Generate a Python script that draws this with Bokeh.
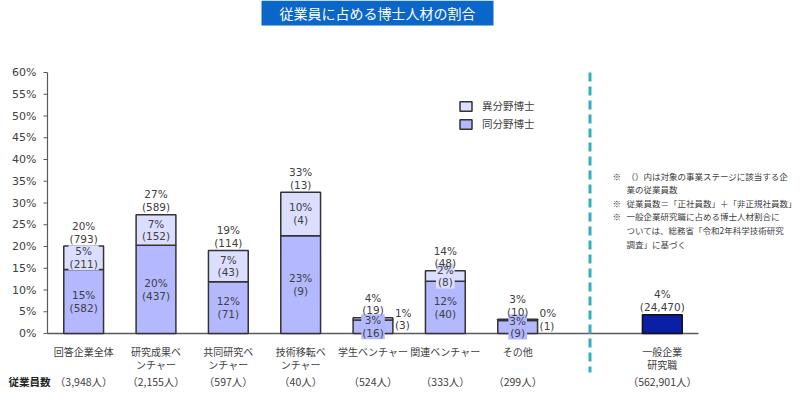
import math
from bokeh.plotting import figure
from bokeh.models import ColumnDataSource, Range1d, Legend, LegendItem
from bokeh.core.properties import value
from bokeh.embed import file_html
from bokeh.resources import INLINE

# ---------------- data ----------------
title_text = "従業員に占める博士人材の割合"
categories = ["回答企業全体", "研究成果ベ\nンチャー", "共同研究ベ\nンチャー", "技術移転ベ\nンチャー",
              "学生ベンチャー", "関連ベンチャー", "その他"]
same_pct = [14.7, 20.3, 11.9, 22.5, 3.1, 12.0, 3.0]     # 同分野博士 (%)
diff_pct = [5.4, 7.0, 7.2, 10.0, 0.5, 2.4, 0.3]         # 異分野博士 (%)
same_cnt = [582, 437, 71, 9, 16, 40, 9]
diff_cnt = [211, 152, 43, 4, 3, 8, 1]
total_cnt = [793, 589, 114, 13, 19, 48, 10]
employees = [3948, 2155, 597, 40, 524, 333, 299]
general_category = "一般企業\n研究職"
general_pct = 4.3
general_cnt = 24470
general_employees = 562901
y_ticks = [0, 5, 10, 15, 20, 25, 30, 35, 40, 45, 50, 55, 60]
legend_labels = ["異分野博士", "同分野博士"]
row_header = "従業員数"
note_marks = ["※", "", "※", "※", "", ""]
note_lines = ["（）内は対象の事業ステージに該当する企",
              "業の従業員数",
              "従業員数＝「正社員数」＋「非正規社員数」",
              "一般企業研究職に占める博士人材割合に",
              "ついては、総務省「令和2年科学技術研究",
              "調査」に基づく"]

# ---------------- style ----------------
JP = "Noto Sans CJK JP"
NUM = "DejaVu Sans"
SAME_COLOR = "#b4b9ff"
DIFF_COLOR = "#dcdeff"
GENERAL_COLOR = "#0a1ea6"
EDGE = "#333333"
TEXT = "#404040"
AXIS = "#5a5a5a"
DIVIDER = "#35aec2"
BAR_W = 0.55
NUM_SIZE = 10.5

W, H = 800, 397
X0, Y0 = 47, 333          # pixel of the plot's left edge / of 0 %
SX, SY = 72.333, 4.35     # pixels per category slot / per percent


def cx(px):
    return -0.5 + (px - X0) / SX


def cy(px):
    return (Y0 - px) / SY


def pct_label(v, c):
    return f"{math.floor(v + 0.5 + 1e-9)}%\n({c:,})"


CW = {"%": 0.95, "(": 0.39, ")": 0.39, ",": 0.318}


def text_w(s):
    return max(sum(CW.get(ch, 0.636) for ch in line) for line in s.split("\n")) * NUM_SIZE


n = len(categories)
xs = list(range(n))
divider_x = n
general_x = n + 1
totals = [s + d for s, d in zip(same_pct, diff_pct)]

p = figure(width=W, height=H, title=None,
           x_range=Range1d(cx(0), cx(W)), y_range=Range1d(cy(H), cy(0)),
           output_backend="svg", toolbar_location=None, min_border=0,
           x_axis_location=None, y_axis_location=None)
p.background_fill_color = "white"
p.border_fill_color = "white"
p.outline_line_color = None
p.grid.visible = False
p.grid.grid_line_color = None

# ---- axes (drawn through the data scales) ----
x_left = -0.5
p.segment(x0=[x_left], y0=[0], x1=[x_left], y1=[y_ticks[-1]], line_color=AXIS, line_width=1.2)
p.segment(x0=[x_left], y0=[0], x1=[general_x + 0.5], y1=[0], line_color=AXIS, line_width=1.5)
p.segment(x0=[x_left - 4 / SX] * len(y_ticks), y0=y_ticks, x1=[x_left] * len(y_ticks), y1=y_ticks,
          line_color=AXIS, line_width=1.2)
p.text(x=[x_left - 11 / SX] * len(y_ticks), y=y_ticks, text=[f"{t}%" for t in y_ticks],
       text_align="right", text_baseline="middle", text_font=value(NUM),
       text_font_size="11px", text_color=TEXT)

# ---- divider ----
p.segment(x0=[divider_x], y0=[y_ticks[-1]], x1=[divider_x], y1=[cy(372)],
          line_color=DIVIDER, line_width=3, line_dash="9 5")

# ---- bars ----
bars = ColumnDataSource(dict(x=xs, same=same_pct, top=totals))
r_same = p.vbar(x="x", width=BAR_W, bottom=0, top="same", source=bars,
                fill_color=SAME_COLOR, line_color=EDGE, line_width=1.5)
r_diff = p.vbar(x="x", width=BAR_W, bottom="same", top="top", source=bars,
                fill_color=DIFF_COLOR, line_color=EDGE, line_width=1.5)
p.vbar(x=[general_x], width=BAR_W, bottom=0, top=[general_pct],
       fill_color=GENERAL_COLOR, line_color="#111111", line_width=1.5)

txt = dict(text_font=value(NUM), text_font_size=f"{NUM_SIZE}px", text_color=TEXT,
           text_line_height=1.07)


def boxed_labels(x, y, t, color):
    src = ColumnDataSource(dict(x=x, y=y, t=t, w=[text_w(s) + 2 for s in t]))
    p.rect(x="x", y="y", width="w", height=25, width_units="screen", height_units="screen",
           source=src, fill_color=color, line_color=None)
    p.text(x="x", y="y", text="t", source=src, text_align="center", text_baseline="middle", **txt)


# same-field labels (centred in segment)
boxed_labels(xs, [s / 2 for s in same_pct],
             [pct_label(s, c) for s, c in zip(same_pct, same_cnt)], SAME_COLOR)

# different-field labels
inside = [i for i in xs if diff_pct[i] >= 1.5]
outside = [i for i in xs if diff_pct[i] < 1.5]
boxed_labels([xs[i] for i in inside], [same_pct[i] + diff_pct[i] / 2 for i in inside],
             [pct_label(diff_pct[i], diff_cnt[i]) for i in inside], DIFF_COLOR)
p.text(x=[xs[i] + BAR_W / 2 + 2 / SX for i in outside],
       y=[same_pct[i] + diff_pct[i] / 2 for i in outside],
       text=[pct_label(diff_pct[i], diff_cnt[i]) for i in outside],
       text_align="left", text_baseline="middle", **txt)

# totals above bars
p.text(x=xs + [general_x], y=[t + 1.5 / SY for t in totals] + [general_pct + 1.5 / SY],
       text=[pct_label(t, c) for t, c in zip(totals, total_cnt)] + [pct_label(general_pct, general_cnt)],
       text_align="center", text_baseline="bottom", **txt)

# ---- category labels (one text per printed line) ----
cat_x, cat_y, cat_t = [], [], []
for xpos, lab in zip(xs + [general_x], categories + [general_category]):
    for k, line in enumerate(lab.split("\n")):
        cat_x.append(xpos)
        cat_y.append(cy(351 + 12.5 * k))
        cat_t.append(line)
p.text(x=cat_x, y=cat_y, text=cat_t, text_align="center", text_baseline="middle",
       text_font=value(JP), text_font_size="10px", text_color=TEXT)

# ---- employee row ----
p.text(x=xs + [general_x], y=[cy(381)] * (n + 1),
       text=[f"（{e:,}人）" for e in employees + [general_employees]],
       text_align="center", text_baseline="middle", text_font=value(JP),
       text_font_size="10.5px", text_color=TEXT)
p.text(x=[cx(8)], y=[cy(381)], text=[row_header], text_align="left", text_baseline="middle",
       text_font=value(JP), text_font_style="bold", text_font_size="10.5px", text_color="#222222")

# ---- legend ----
legend = Legend(items=[LegendItem(label=legend_labels[0], renderers=[r_diff]),
                       LegendItem(label=legend_labels[1], renderers=[r_same])],
                location=(458, 266), orientation="vertical",
                glyph_width=15, glyph_height=12, label_height=12, label_standoff=9,
                spacing=3, padding=0, margin=0,
                label_text_font=JP, label_text_font_size="10.5px", label_text_color=TEXT,
                border_line_color=None, background_fill_alpha=0)
p.add_layout(legend)

# ---- notes ----
note_y = [cy(175 + 13.6 * k) for k in range(len(note_lines))]
mk = [i for i, m in enumerate(note_marks) if m]
p.text(x=[cx(612)] * len(mk), y=[note_y[i] for i in mk], text=[note_marks[i] for i in mk],
       text_align="left", text_baseline="middle", text_font=value(JP),
       text_font_size="8.5px", text_color=TEXT)
p.text(x=[cx(626)] * len(note_lines), y=note_y, text=note_lines,
       text_align="left", text_baseline="middle", text_font=value(JP),
       text_font_size="8.5px", text_color=TEXT)

# ---- title ----
p.rect(x=[cx(377)], y=[cy(12.5)], width=232, height=25, width_units="screen",
       height_units="screen", fill_color="#0b66c9", line_color=None)
p.text(x=[cx(377)], y=[cy(12.5)], text=[title_text], text_align="center",
       text_baseline="middle", text_font=value(JP), text_font_size="14px", text_color="white")

open("out.html", "w").write(file_html(p, INLINE))
